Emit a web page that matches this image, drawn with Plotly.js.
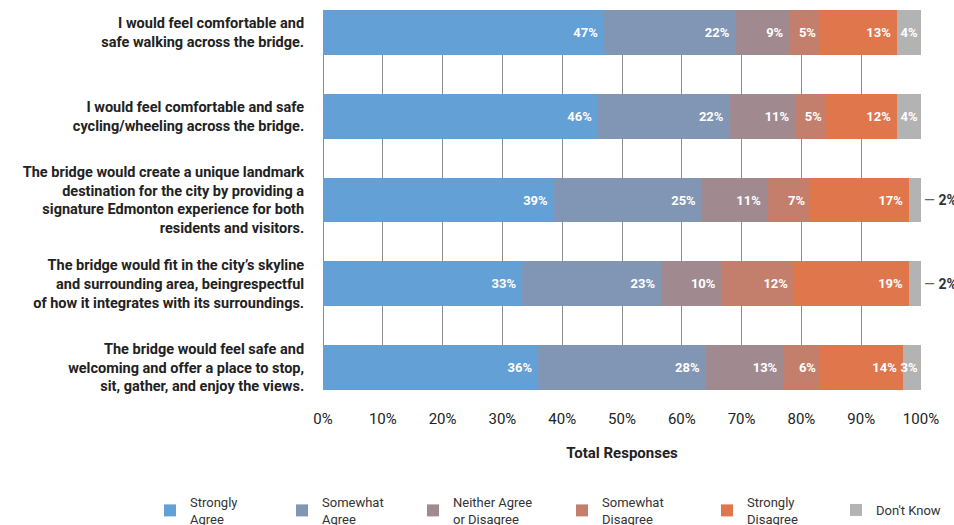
<!DOCTYPE html>
<html>
<head>
<meta charset="utf-8">
<script src="https://cdn.plot.ly/plotly-3.0.1.min.js"></script>
<style>html,body{margin:0;padding:0;background:#fff;}#chart{width:954px;height:525px;}</style>
</head>
<body>
<div id="chart"></div>
<script>
const statements = [
  "I would feel comfortable and<br>safe walking across the bridge.",
  "I would feel comfortable and safe<br>cycling/wheeling across the bridge.",
  "The bridge would create a unique landmark<br>destination for the city by providing a<br>signature Edmonton experience for both<br>residents and visitors.",
  "The bridge would fit in the city’s skyline<br>and surrounding area, beingrespectful<br>of how it integrates with its surroundings.",
  "The bridge would feel safe and<br>welcoming and offer a place to stop,<br>sit, gather, and enjoy the views."
];
const seriesNames = ["Strongly<br>Agree", "Somewhat<br>Agree", "Neither Agree<br>or Disagree", "Somewhat<br>Disagree", "Strongly<br>Disagree", "Don't Know"];
const stronglyAgree    = [47, 46, 39, 33, 36];
const somewhatAgree    = [22, 22, 25, 23, 28];
const neither          = [9, 11, 11, 10, 13];
const somewhatDisagree = [5, 5, 7, 12, 6];
const stronglyDisagree = [13, 12, 17, 19, 14];
const dontKnow         = [4, 4, 2, 2, 3];
const outsideLabel     = [false, false, true, true, false]; // Don't Know label drawn outside the bar
const tickVals = [0,10,20,30,40,50,60,70,80,90,100];
const tickText = tickVals.map(v => v + "%");

const colors = ["#63A0D6", "#8196B4", "#A08A8F", "#C47F6C", "#E0764C", "#B3B3B3"];
const series = [stronglyAgree, somewhatAgree, neither, somewhatDisagree, stronglyDisagree, dontKnow];
const legendLeft = [150, 282, 413, 562, 707, 836]; // px, left edge of each legend entry
const legendTop  = [487, 487, 487, 487, 487, 495]; // px, top edge of each legend entry
const FONT = "Roboto, 'Liberation Sans', sans-serif";
const W = 954, H = 525;

const traces = series.map((vals, i) => ({
  type: "bar",
  orientation: "h",
  name: seriesNames[i],
  legend: i === 0 ? "legend" : "legend" + (i + 1),
  showlegend: true,
  x: vals,
  y: statements,
  marker: {color: colors[i], line: {width: 0}},
  text: vals.map((v, j) => (i === 5 && outsideLabel[j]) ? "" : v + "%" + (v >= 9 ? "\u00a0" : "")),
  textposition: "inside",
  insidetextanchor: "end",
  textangle: 0,
  constraintext: "none",
  textfont: {family: FONT, size: 13, color: "#ffffff", weight: "bold"},
  hoverinfo: "name+x"
}));

const annotations = statements
  .map((s, j) => outsideLabel[j] ? {
    x: 100, y: s, xref: "x", yref: "y", xanchor: "left", yanchor: "middle",
    xshift: 1, showarrow: false,
    text: "<span style='color:#666'>—</span> <b>" + dontKnow[j] + "%</b>",
    font: {family: FONT, size: 14, color: "#333"}
  } : null)
  .filter(a => a);

const layout = {
  width: W, height: H,
  margin: {l: 323, r: 33, t: 10, b: 135, autoexpand: false},
  showlegend: true,
  barmode: "stack",
  barnorm: "percent",
  bargap: 0.464,
  paper_bgcolor: "#fff", plot_bgcolor: "#fff",
  font: {family: FONT, color: "#222"},
  uniformtext: {mode: "show", minsize: 13},
  xaxis: {
    range: [0, 100],
    tickvals: tickVals, ticktext: tickText,
    showgrid: true, gridcolor: "#8c8c8c", gridwidth: 1,
    zeroline: true, zerolinecolor: "#8c8c8c", zerolinewidth: 1,
    ticks: "outside", ticklen: 15, tickcolor: "rgba(0,0,0,0)",
    tickfont: {family: FONT, size: 15, color: "#222"},
    title: {text: "Total Responses", standoff: 20, font: {family: FONT, size: 15, color: "#222", weight: "bold"}},
    automargin: false,
    fixedrange: true
  },
  yaxis: {
    categoryorder: "array", categoryarray: statements,
    autorange: false, range: [4.268, -0.268],
    showgrid: false, zeroline: false,
    ticks: "outside", ticklen: 15, tickcolor: "rgba(0,0,0,0)",
    tickfont: {family: FONT, size: 14.5, color: "#222", weight: "bold"},
    automargin: false,
    fixedrange: true
  },
  annotations: annotations
};

seriesNames.forEach((n, i) => {
  const key = i === 0 ? "legend" : "legend" + (i + 1);
  layout[key] = {
    visible: true,
    orientation: "v",
    xref: "container", yref: "container",
    x: legendLeft[i] / W, y: 1 - legendTop[i] / H, xanchor: "left", yanchor: "top",
    font: {family: FONT, size: 13, color: "#333"},
    itemwidth: 30,
    valign: "middle",
    bgcolor: "rgba(0,0,0,0)"
  };
});

Plotly.newPlot("chart", traces, layout, {displayModeBar: false, staticPlot: true});
</script>
</body>
</html>
